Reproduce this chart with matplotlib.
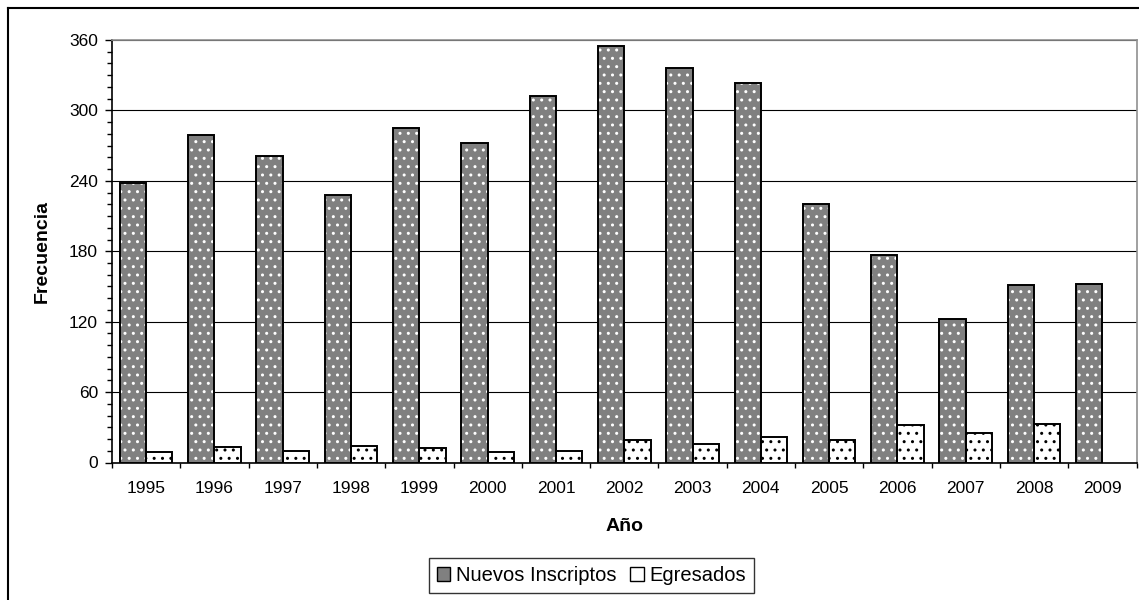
import numpy as np
import matplotlib
matplotlib.use('Agg')
import matplotlib.pyplot as plt
from matplotlib.patches import Patch
from matplotlib.lines import Line2D
from matplotlib.ticker import MultipleLocator

plt.rcParams['font.family'] = ['Liberation Sans', 'DejaVu Sans']
plt.rcParams['hatch.linewidth'] = 1.0

# Data
years = ['1995', '1996', '1997', '1998', '1999', '2000', '2001', '2002',
         '2003', '2004', '2005', '2006', '2007', '2008', '2009']
nuevos = [238, 279, 261, 228, 285, 272, 312, 355, 336, 323, 220, 177, 122, 151, 152]
egresados = [9, 13, 10, 14, 12, 9, 10, 19, 16, 22, 19, 32, 25, 33, 0]

W, H = 1139, 600
fig = plt.figure(figsize=(W / 100, H / 100), dpi=100)
ax = fig.add_axes([112 / W, 1 - 462.5 / H, 1024.5 / W, 422.5 / H])

x = np.arange(len(years))
w = 1 / 2.6

# Nuevos Inscriptos: gray with white dots, black outline
ax.bar(x - w / 2, nuevos, w, color='#808080', edgecolor='white', hatch='..',
       linewidth=0, zorder=3)
ax.bar(x - w / 2, nuevos, w, fill=False, edgecolor='black', linewidth=1.4, zorder=4)
# Egresados: white with black dots
eg_x = [xi + w / 2 for xi, v in zip(x, egresados) if v > 0]
eg_v = [v for v in egresados if v > 0]
ax.bar(eg_x, eg_v, w, color='white', edgecolor='black', hatch='..',
       linewidth=1.4, zorder=3)

ax.set_xlim(-0.5, len(years) - 0.5)
ax.set_ylim(0, 360)
ax.yaxis.set_major_locator(MultipleLocator(60))
ax.yaxis.set_minor_locator(MultipleLocator(10))
ax.set_xticks(x)
ax.set_xticklabels(years, fontsize=12.5)
ax.set_xticks(np.arange(-0.5, len(years)), minor=True)
ax.tick_params(axis='x', which='major', length=0, pad=13.5)
ax.tick_params(axis='x', which='minor', length=3.5, width=1)
ax.tick_params(axis='y', which='major', length=5, width=1, pad=5, labelsize=12.5)
ax.tick_params(axis='y', which='minor', length=3.5, width=1)
ax.grid(axis='y', which='major', color='black', linewidth=0.8, zorder=0)
ax.set_axisbelow(True)

ax.spines['left'].set_linewidth(1.2)
ax.spines['bottom'].set_linewidth(1.2)
ax.spines['top'].set_color('#909090')
ax.spines['right'].set_color('#909090')
ax.spines['top'].set_linewidth(1.2)
ax.spines['right'].set_linewidth(1.2)

ax.set_xlabel('Año', fontsize=14, fontweight='bold', labelpad=16)
ax.set_ylabel('Frecuencia', fontsize=14, fontweight='bold', labelpad=13)

handles = [Patch(facecolor='#808080', edgecolor='black', label='Nuevos Inscriptos'),
           Patch(facecolor='white', edgecolor='black', label='Egresados')]
leg = fig.legend(handles=handles, loc='center', bbox_to_anchor=(591.5 / W, 1 - 575.5 / H),
                 ncol=2, fontsize=14.5, frameon=True, fancybox=False, edgecolor='black',
                 handlelength=0.65, handleheight=0.65, handletextpad=0.3,
                 columnspacing=0.7, borderpad=0.4, borderaxespad=0)
leg.get_frame().set_linewidth(1)

# outer chart frame (only left and top edges are visible)
fig.add_artist(Line2D([7.5 / W, 7.5 / W], [0, 1 - 8 / H], transform=fig.transFigure,
                      color='black', linewidth=1.5))
fig.add_artist(Line2D([7.5 / W, 1], [1 - 8 / H, 1 - 8 / H], transform=fig.transFigure,
                      color='black', linewidth=1.5))

fig.savefig('out.png', dpi=100)
